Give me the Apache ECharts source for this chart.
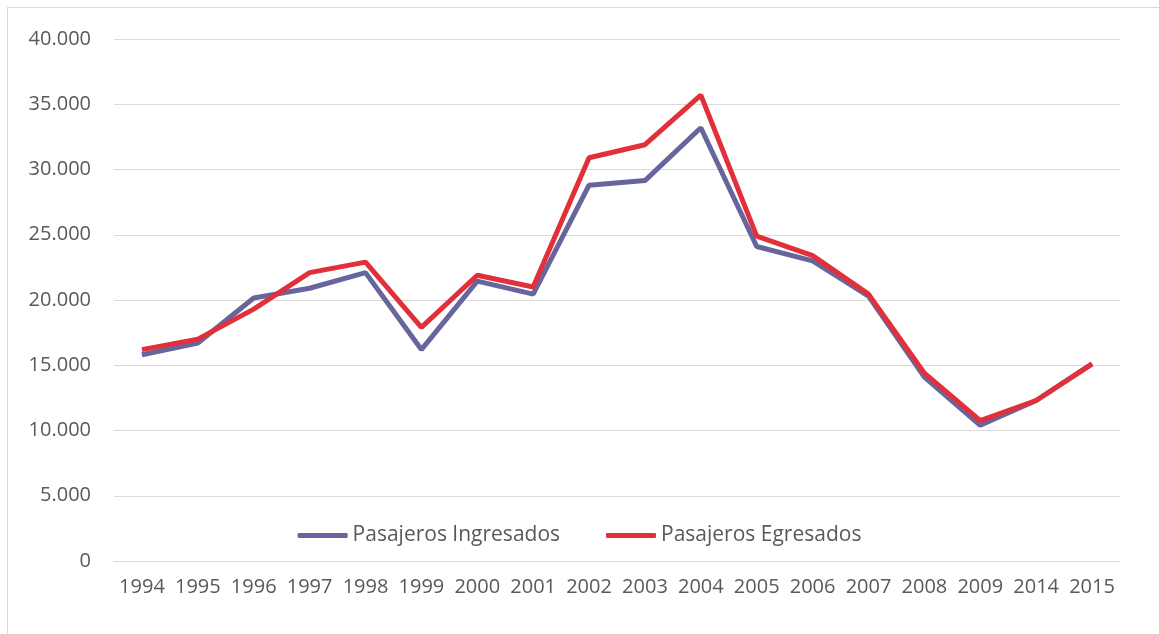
<!DOCTYPE html>
<html>
<head>
<meta charset="utf-8">
<title>Pasajeros</title>
<script src="https://cdn.jsdelivr.net/npm/echarts@6/dist/echarts.min.js"></script>
<style>
  html, body { margin: 0; padding: 0; background: #fff; }
  #frame { position: absolute; left: 7px; top: 7px; width: 1160px; height: 640px; border: 1px solid #d9d9d9; }
  #chart { position: absolute; left: 0; top: 0; width: 1159px; height: 634px; }
</style>
</head>
<body>
<div id="frame"></div>
<div id="chart"></div>
<script>
  // datos
  const years = ['1994', '1995', '1996', '1997', '1998', '1999', '2000', '2001', '2002',
    '2003', '2004', '2005', '2006', '2007', '2008', '2009', '2014', '2015']
  const ingresados = [15800, 16700, 20150, 20900, 22100, 16200, 21450, 20450, 28800,
    29150, 33200, 24100, 23000, 20300, 14100, 10400, 12300, 15100]
  const egresados = [16200, 17000, 19300, 22100, 22900, 17900, 21900, 21000, 30900,
    31900, 35700, 24900, 23400, 20450, 14400, 10750, 12300, 15100]

  const gridColor = '#d9d9d9'
  const textColor = '#595959'
  const fontFamily = '"Open Sans", "Noto Sans", sans-serif'

  const chart = echarts.init(document.getElementById('chart'))
  chart.setOption({
    animation: false,
    grid: { left: 114, right: 39, top: 39, bottom: 73 },
    legend: {
      data: ['Pasajeros Ingresados', 'Pasajeros Egresados'],
      bottom: 83,
      left: 'center',
      icon: 'roundRect',
      itemWidth: 50,
      itemHeight: 5,
      itemGap: 46,
      textStyle: { color: textColor, fontSize: 21, fontFamily }
    },
    xAxis: {
      type: 'category',
      data: years,
      boundaryGap: true,
      axisLine: { lineStyle: { color: gridColor } },
      axisTick: { show: false },
      axisLabel: { color: textColor, fontSize: 20, fontFamily, margin: 16, interval: 0 }
    },
    yAxis: {
      type: 'value',
      min: 0,
      max: 40000,
      interval: 5000,
      axisLine: { show: false },
      axisTick: { show: false },
      splitLine: { lineStyle: { color: gridColor, width: 1 } },
      axisLabel: {
        color: textColor,
        fontSize: 20,
        fontFamily,
        margin: 23,
        formatter: v => String(v).replace(/\B(?=(\d{3})+(?!\d))/g, '.')
      }
    },
    series: [
      {
        name: 'Pasajeros Ingresados',
        type: 'line',
        data: ingresados,
        symbol: 'none',
        color: '#66669c',
        lineStyle: { color: '#66669c', width: 5 }
      },
      {
        name: 'Pasajeros Egresados',
        type: 'line',
        data: egresados,
        symbol: 'none',
        color: '#e1303a',
        lineStyle: { color: '#e1303a', width: 5 }
      }
    ]
  })
</script>
</body>
</html>
